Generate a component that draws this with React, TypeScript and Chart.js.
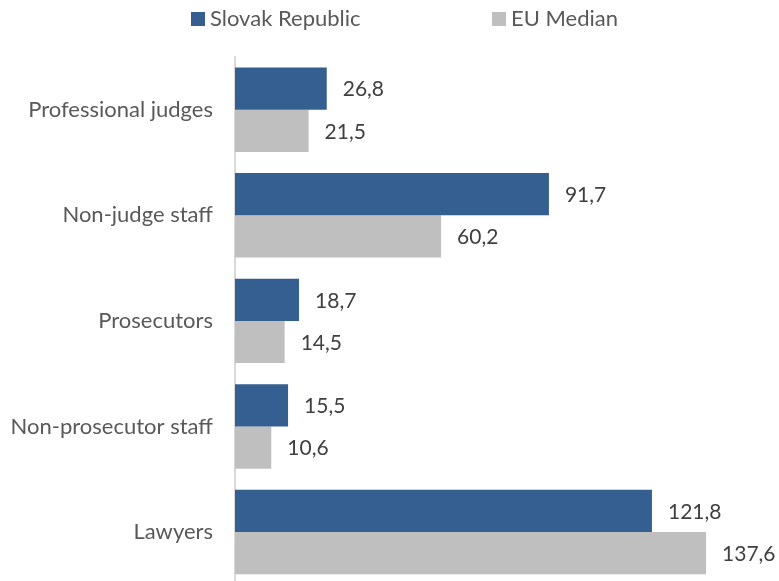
import React, { useEffect, useRef } from "react";
import { Chart, registerables } from "chart.js";

Chart.register(...registerables);

const categories = ["Professional judges", "Non-judge staff", "Prosecutors", "Non-prosecutor staff", "Lawyers"];
const slovakValues = [26.8, 91.7, 18.7, 15.5, 121.8];
const euMedianValues = [21.5, 60.2, 14.5, 10.6, 137.6];
const seriesNames = ["Slovak Republic", "EU Median"];
const seriesColors = ["#355E91", "#BFBFBF"];

const FONT = "Lato";
const FSIZE = 22;
const LSIZE = 21;

const fmt = (v: number) => v.toFixed(1).replace(".", ",");

const labelPlugin = {
  id: "valueLabels",
  afterDatasetsDraw(chart: any) {
    const ctx = chart.ctx;
    ctx.save();
    ctx.font = `${LSIZE}px ${FONT}`;
    ctx.fillStyle = "#404040";
    ctx.textAlign = "left";
    ctx.textBaseline = "middle";
    chart.data.datasets.forEach((ds: any, di: number) => {
      const meta = chart.getDatasetMeta(di);
      meta.data.forEach((el: any, i: number) => {
        ctx.fillText(fmt(ds.data[i]), el.x + 16, el.y + 1);
      });
    });
    ctx.restore();
  },
};

const legendPlugin = {
  id: "customLegend",
  afterDraw(chart: any) {
    const ctx = chart.ctx;
    ctx.save();
    ctx.font = `${FSIZE}px ${FONT}`;
    ctx.textAlign = "left";
    ctx.textBaseline = "middle";
    const boxX = [191, 492];
    seriesNames.forEach((name, i) => {
      ctx.fillStyle = seriesColors[i];
      ctx.fillRect(boxX[i], 12, 14, 14);
      ctx.fillStyle = "#595959";
      ctx.fillText(name, boxX[i] + 19, 19);
    });
    ctx.restore();
  },
};

export default function App() {
  const ref = useRef<HTMLCanvasElement>(null);
  useEffect(() => {
    if (!ref.current) return;
    const chart = new Chart(ref.current, {
      type: "bar",
      data: {
        labels: categories,
        datasets: [
          { label: seriesNames[0], data: slovakValues, backgroundColor: seriesColors[0], categoryPercentage: 0.8, barPercentage: 1 },
          { label: seriesNames[1], data: euMedianValues, backgroundColor: seriesColors[1], categoryPercentage: 0.8, barPercentage: 1 },
        ],
      },
      options: {
        indexAxis: "y",
        animation: false,
        responsive: false,
        layout: { padding: { top: 57, bottom: 5.5, right: 30.5, left: 0 } },
        plugins: { legend: { display: false }, tooltip: { enabled: false } },
        scales: {
          x: { display: false, min: 0, max: 150 },
          y: {
            afterFit: (s: any) => { s.width = 235; },
            grid: { display: false, drawTicks: false },
            border: { display: true, color: "#D9D9D9", width: 2 },
            ticks: { color: "#595959", font: { family: FONT, size: FSIZE }, padding: 22 },
          },
        },
      },
      plugins: [labelPlugin, legendPlugin],
    });
    return () => chart.destroy();
  }, []);
  return (
    <div style={{ position: "fixed", left: 0, top: 0, width: 779, height: 581, overflow: "hidden", background: "#fff" }}>
      <canvas ref={ref} width={779} height={620} style={{ width: 779, height: 620, display: "block" }} />
    </div>
  );
}
